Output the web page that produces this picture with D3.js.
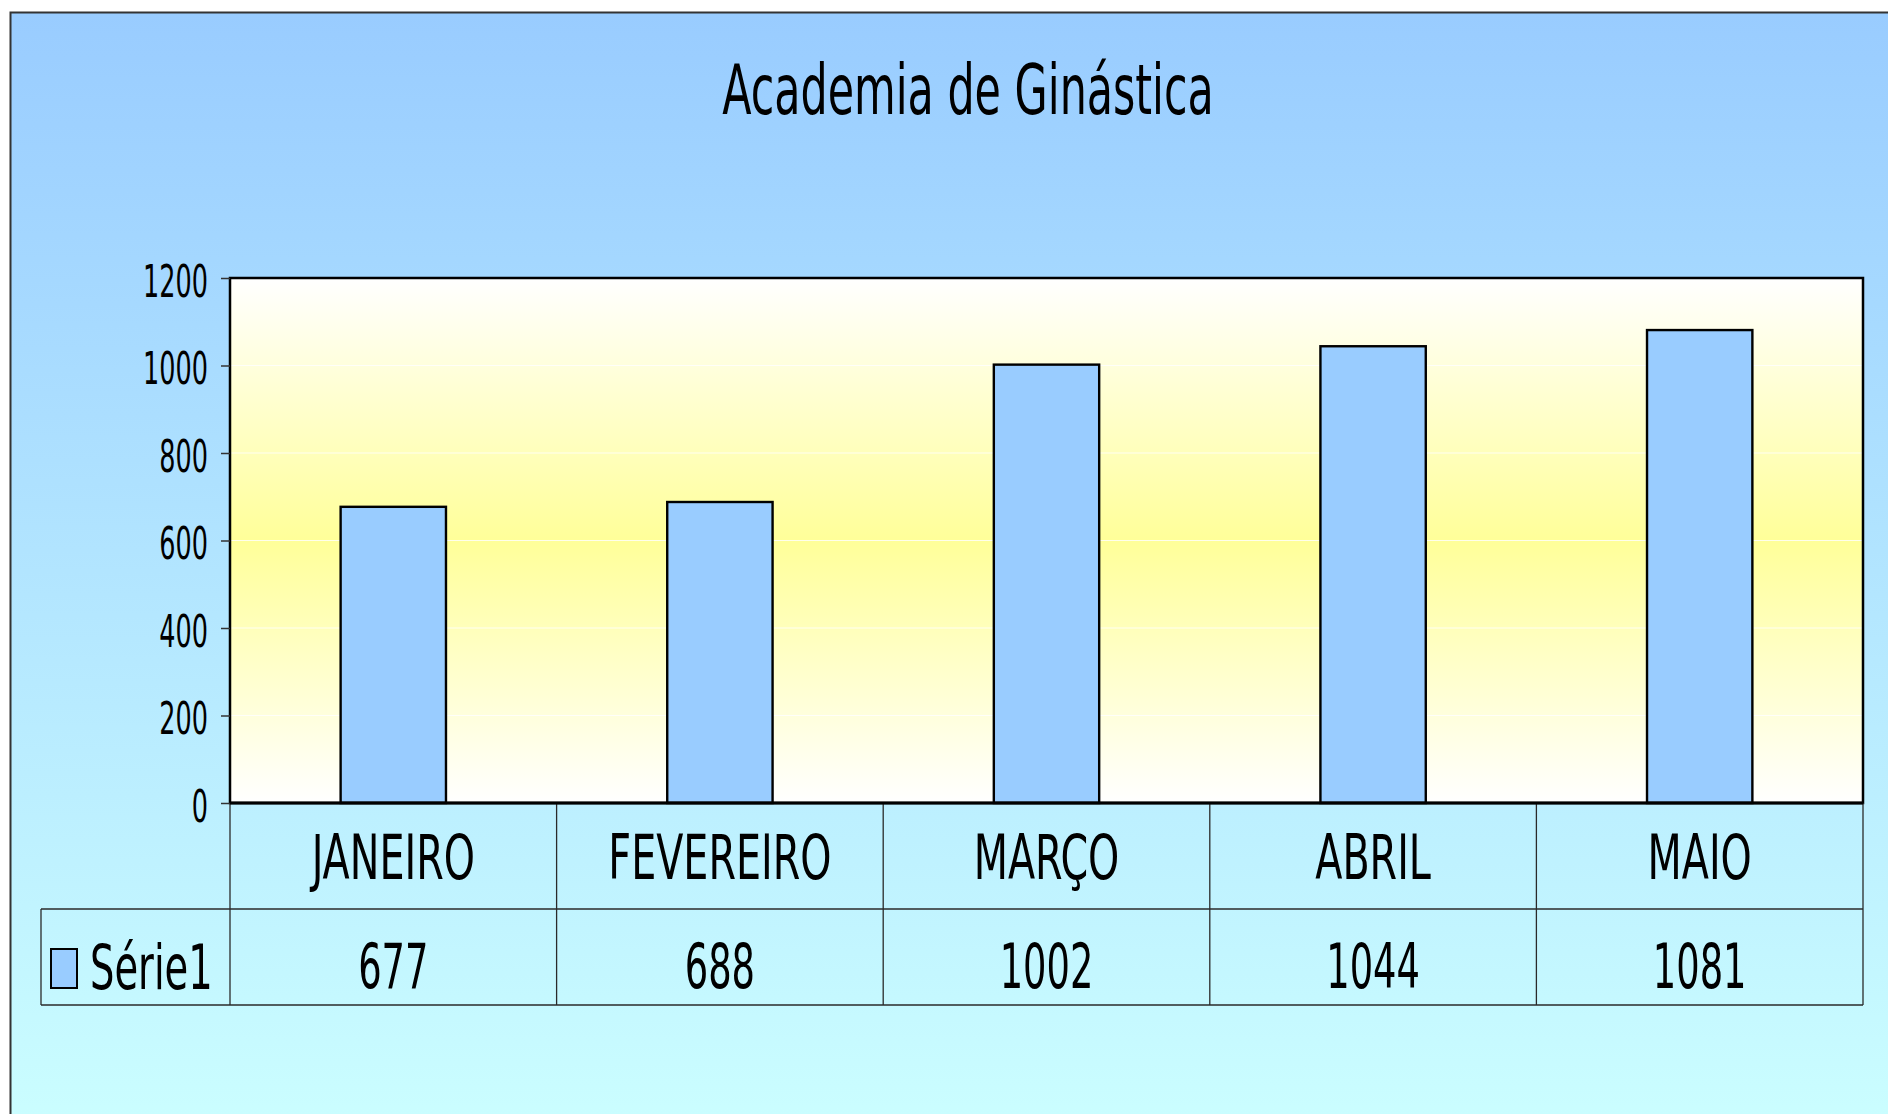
<!DOCTYPE html>
<html>
<head>
<meta charset="utf-8">
<script src="https://cdn.jsdelivr.net/npm/d3@7"></script>
<style>
  html, body { margin: 0; padding: 0; background: #fff; overflow: hidden; }
  text { font-family: "DejaVu Sans Condensed", "DejaVu Sans", sans-serif; fill: #000; }
</style>
</head>
<body>
<div id="chart"></div>
<script>
// chart data
const chartTitle = "Academia de Ginástica";
const seriesName = "Série1";
const categories = ["JANEIRO", "FEVEREIRO", "MARÇO", "ABRIL", "MAIO"];
const values = [677, 688, 1002, 1044, 1081];
const yTicks = [0, 200, 400, 600, 800, 1000, 1200];

const width = 1888;
const height = 1114;

// plot area box
const plot = { left: 230, right: 1863, top: 278, bottom: 803 };
const row1 = 909, row2 = 1005, legendLeft = 41;

const svg = d3.select("#chart")
    .append("svg")
    .attr("width", width)
    .attr("height", height);

const defs = svg.append("defs");

// outer background gradient (blue -> light cyan)
const bg = defs.append("linearGradient")
    .attr("id", "bgGrad")
    .attr("x1", 0).attr("y1", 0).attr("x2", 0).attr("y2", 1);
bg.append("stop").attr("offset", "0%").attr("stop-color", "#99ccff");
bg.append("stop").attr("offset", "100%").attr("stop-color", "#ccffff");

// plot area gradient (white -> yellow -> white)
const pg = defs.append("linearGradient")
    .attr("id", "plotGrad")
    .attr("x1", 0).attr("y1", 0).attr("x2", 0).attr("y2", 1);
pg.append("stop").attr("offset", "0%").attr("stop-color", "#ffffff");
pg.append("stop").attr("offset", "50%").attr("stop-color", "#ffff99");
pg.append("stop").attr("offset", "100%").attr("stop-color", "#ffffff");

svg.append("rect")
    .attr("x", 10.5).attr("y", 12.5)
    .attr("width", 1920).attr("height", 1140)
    .attr("fill", "url(#bgGrad)")
    .attr("stroke", "#333")
    .attr("stroke-width", 2);

// scales
const x = d3.scaleBand()
    .domain(categories)
    .range([plot.left, plot.right])
    .padding(0);

const y = d3.scaleLinear()
    .domain([0, 1200])
    .range([plot.bottom, plot.top]);

const barW = x.bandwidth() / 3.1;

// title
svg.append("text")
    .attr("transform", "translate(968,114) scale(0.68,1)")
    .attr("text-anchor", "middle")
    .style("font-size", "70px")
    .text(chartTitle);

// plot background
svg.append("rect")
    .attr("x", plot.left).attr("y", plot.top)
    .attr("width", plot.right - plot.left)
    .attr("height", plot.bottom - plot.top)
    .attr("fill", "url(#plotGrad)");

// gridlines
svg.append("g")
    .selectAll("line")
    .data(yTicks.filter(d => d > 0 && d < 1200))
    .join("line")
    .attr("x1", plot.left).attr("x2", plot.right)
    .attr("y1", d => y(d)).attr("y2", d => y(d))
    .attr("stroke", "#ffffff")
    .attr("stroke-opacity", 0.8)
    .attr("stroke-width", 1);

// bars
svg.append("g")
    .selectAll("rect")
    .data(values)
    .join("rect")
    .attr("x", (d, i) => x(categories[i]) + (x.bandwidth() - barW) / 2)
    .attr("y", d => y(d))
    .attr("width", barW)
    .attr("height", d => y(0) - y(d))
    .attr("fill", "#99ccff")
    .attr("stroke", "#000")
    .attr("stroke-width", 2.4);

// plot border
svg.append("rect")
    .attr("x", plot.left).attr("y", plot.top)
    .attr("width", plot.right - plot.left)
    .attr("height", plot.bottom - plot.top)
    .attr("fill", "none")
    .attr("stroke", "#000")
    .attr("stroke-width", 2.5);

// y axis
const yAxis = svg.append("g")
    .attr("transform", `translate(${plot.left},0)`)
    .call(d3.axisLeft(y).tickValues(yTicks).tickFormat(d3.format("d")).tickSize(9).tickPadding(13));

yAxis.select(".domain").remove();
yAxis.selectAll(".tick line").attr("stroke", "#333").attr("stroke-width", 1.5);
yAxis.selectAll(".tick text")
    .attr("x", null)
    .attr("dy", "0.4em")
    .attr("transform", "translate(-22,0) scale(0.63,1)")
    .style("font-size", "45px")
    .style("font-family", "'DejaVu Sans Condensed', 'DejaVu Sans', sans-serif")
    .attr("fill", "#000");

// data table lines
const table = svg.append("g")
    .attr("stroke", "#2a2a2a")
    .attr("stroke-width", 1.3);

const edges = categories.map(c => x(c)).concat([plot.right]);

table.selectAll("line.v")
    .data(edges)
    .join("line")
    .attr("class", "v")
    .attr("x1", d => d).attr("x2", d => d)
    .attr("y1", plot.bottom).attr("y2", row2);

table.append("line")
    .attr("x1", legendLeft).attr("x2", legendLeft)
    .attr("y1", row1).attr("y2", row2);

table.selectAll("line.h")
    .data([row1, row2])
    .join("line")
    .attr("class", "h")
    .attr("x1", legendLeft).attr("x2", plot.right)
    .attr("y1", d => d).attr("y2", d => d);

// category axis line (thick)
svg.append("line")
    .attr("x1", plot.left).attr("x2", plot.right)
    .attr("y1", plot.bottom).attr("y2", plot.bottom)
    .attr("stroke", "#000")
    .attr("stroke-width", 3);

// category labels
svg.append("g")
    .selectAll("text")
    .data(categories)
    .join("text")
    .attr("transform", d => `translate(${x(d) + x.bandwidth() / 2},879) scale(0.7,1)`)
    .attr("text-anchor", "middle")
    .style("font-size", "63px")
    .text(d => d);

// value labels
svg.append("g")
    .selectAll("text")
    .data(values)
    .join("text")
    .attr("transform", (d, i) => `translate(${x(categories[i]) + x.bandwidth() / 2},988) scale(0.66,1)`)
    .attr("text-anchor", "middle")
    .style("font-size", "62px")
    .text(d => d);

// legend key
svg.append("rect")
    .attr("x", 51).attr("y", 949)
    .attr("width", 26).attr("height", 39)
    .attr("fill", "#99ccff")
    .attr("stroke", "#000")
    .attr("stroke-width", 2);

svg.append("text")
    .attr("transform", "translate(90,989) scale(0.69,1)")
    .style("font-size", "62px")
    .text(seriesName);
</script>
</body>
</html>
